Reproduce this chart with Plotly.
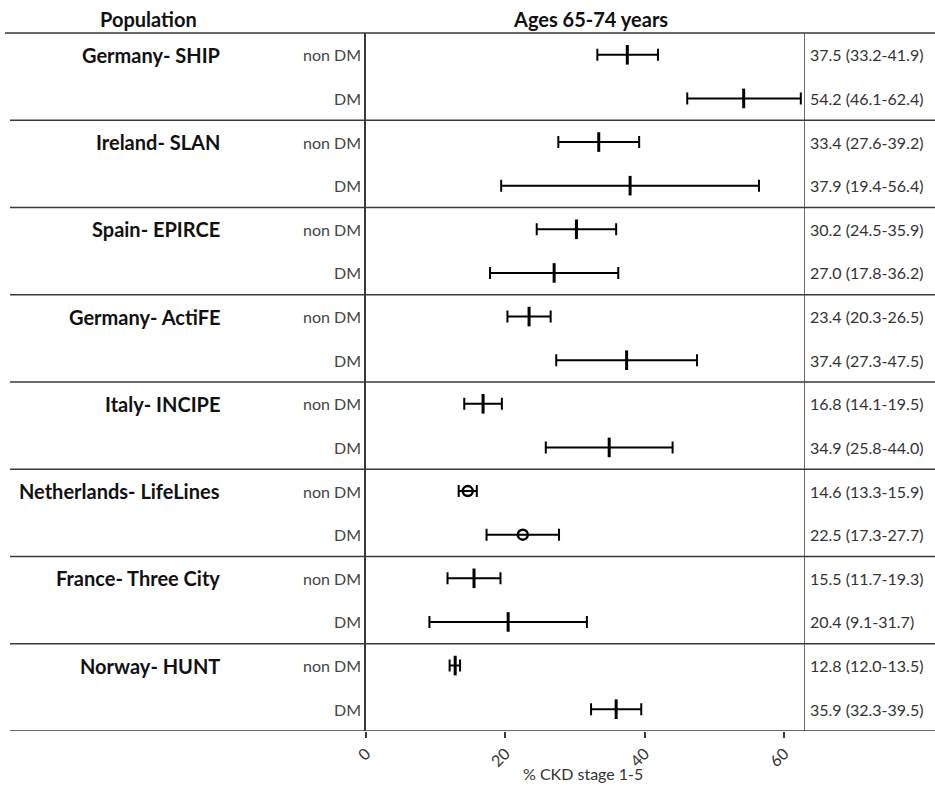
import plotly.graph_objects as go

groups = ["Germany- SHIP", "Ireland- SLAN", "Spain- EPIRCE", "Germany- ActiFE",
          "Italy- INCIPE", "Netherlands- LifeLines", "France- Three City", "Norway- HUNT"]
subgroups = ["non DM", "DM"]
nondm_est = [37.5, 33.4, 30.2, 23.4, 16.8, 14.6, 15.5, 12.8]
nondm_lo = [33.2, 27.6, 24.5, 20.3, 14.1, 13.3, 11.7, 12.0]
nondm_hi = [41.9, 39.2, 35.9, 26.5, 19.5, 15.9, 19.3, 13.5]
dm_est = [54.2, 37.9, 27.0, 37.4, 34.9, 22.5, 20.4, 35.9]
dm_lo = [46.1, 19.4, 17.8, 27.3, 25.8, 17.3, 9.1, 32.3]
dm_hi = [62.4, 56.4, 36.2, 47.5, 44.0, 27.7, 31.7, 39.5]
xticks = [0, 20, 40, 60]
xmax = 63

W, H = 935, 787
L, R, T, B = 366, 805, 33, 731


def px2x(px):
    return (px - L) / (R - L)


def py2y(py):
    return (B - py) / (B - T)


rows_y, est, lo, hi, lab, grp_of = [], [], [], [], [], []
for g in range(len(groups)):
    for s, (e, l, h) in enumerate([(nondm_est[g], nondm_lo[g], nondm_hi[g]),
                                   (dm_est[g], dm_lo[g], dm_hi[g])]):
        rows_y.append(2 * g + s + 0.5)
        est.append(e); lo.append(l); hi.append(h)
        lab.append(subgroups[s]); grp_of.append(g)

nl = groups.index("Netherlands- LifeLines")
normal = [i for i in range(len(est)) if grp_of[i] != nl]
special = [i for i in range(len(est)) if grp_of[i] == nl]

fig = go.Figure()


def add(idx, symbol, size, lw):
    fig.add_trace(go.Scatter(
        x=[est[i] for i in idx], y=[rows_y[i] for i in idx], mode="markers",
        marker=dict(symbol=symbol, size=size, color="black",
                    line=dict(color="black", width=lw)),
        error_x=dict(type="data", symmetric=False,
                     array=[hi[i] - est[i] for i in idx],
                     arrayminus=[est[i] - lo[i] for i in idx],
                     thickness=2, width=6, color="black"),
        showlegend=False, hoverinfo="skip"))


add(normal, "line-ns", 14, 3)
add(special, "circle-open", 10, 2.5)

line_col = "#3a3a3a"
shapes = []
shapes.append(dict(type="line", xref="paper", yref="paper", x0=px2x(5), x1=px2x(935),
                   y0=1, y1=1, line=dict(color=line_col, width=1.5)))
for g in range(1, len(groups) + 1):
    shapes.append(dict(type="line", xref="paper", yref="y", x0=px2x(10), x1=px2x(935),
                       y0=2 * g, y1=2 * g, line=dict(color=line_col, width=1.5)))
shapes.append(dict(type="line", xref="x", yref="paper", x0=xmax, x1=xmax, y0=0, y1=1,
                   line=dict(color=line_col, width=1.5)))

ann = []
font = "Lato, 'Open Sans', sans-serif"
ann.append(dict(text="<b>Population</b>", xref="paper", yref="paper", x=px2x(148), y=py2y(19),
                xanchor="center", yanchor="middle", showarrow=False,
                font=dict(size=20, color="#111", family=font)))
ann.append(dict(text="<b>Ages 65-74 years</b>", xref="paper", yref="paper", x=px2x(590),
                y=py2y(19), xanchor="center", yanchor="middle", showarrow=False,
                font=dict(size=20, color="#111", family=font)))
for g in range(len(groups)):
    ann.append(dict(text="<b>" + groups[g] + "</b>", xref="paper", yref="y", x=px2x(222),
                    y=2 * g + 0.5, xanchor="right", yanchor="middle", showarrow=False,
                    font=dict(size=20, color="#111", family=font)))
for i in range(len(est)):
    ann.append(dict(text=lab[i], xref="paper", yref="y", x=px2x(363), y=rows_y[i],
                    xanchor="right", yanchor="middle", showarrow=False,
                    font=dict(size=16, color="#444", family=font)))
    ann.append(dict(text=f"{est[i]:.1f} ({lo[i]:.1f}-{hi[i]:.1f})", xref="paper", yref="y",
                    x=px2x(808), y=rows_y[i], xanchor="left", yanchor="middle",
                    showarrow=False, font=dict(size=16, color="#333", family=font)))
ann.append(dict(text="% CKD stage 1-5", xref="paper", yref="paper", x=px2x(583), y=py2y(773),
                xanchor="center", yanchor="middle", showarrow=False,
                font=dict(size=16, color="#333", family=font)))

fig.update_layout(
    width=W, height=H, margin=dict(l=L, r=W - R, t=T, b=H - B, pad=0),
    paper_bgcolor="white", plot_bgcolor="white",
    xaxis=dict(range=[0, xmax], tickvals=xticks, ticks="outside", ticklen=6, tickwidth=1.5,
               tickcolor=line_col, showline=False, showgrid=False, zeroline=False,
               tickangle=-45, tickfont=dict(size=16, color="#333", family=font)),
    yaxis=dict(range=[2 * len(groups), 0], showticklabels=False, ticks="", showgrid=False,
               zeroline=False, showline=True, linecolor=line_col, linewidth=1.5, mirror=False),
    shapes=shapes, annotations=ann,
)

fig.write_html("out.html")
